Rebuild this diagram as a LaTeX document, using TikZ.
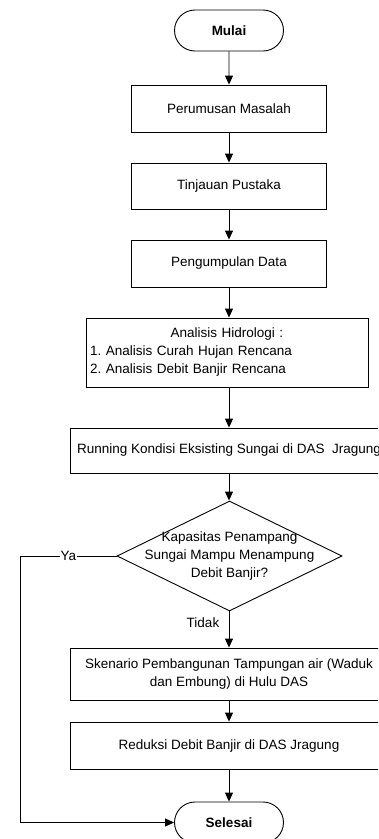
\documentclass[tikz,border=0pt]{standalone}
\usepackage{fontspec}
\setmainfont{Liberation Sans}
\usetikzlibrary{shapes.geometric,shapes.misc,arrows.meta}
\frenchspacing
\begin{document}
\begin{tikzpicture}[x=1pt,y=-1pt,
  every node/.style={font=\fontsize{13.5}{18}\selectfont},
  box/.style={draw=black,line width=0.9pt,rectangle,inner sep=0pt,align=center,minimum height=47pt},
  term/.style={draw=black,line width=0.9pt,rounded rectangle,minimum width=109pt,minimum height=41pt,inner sep=0pt,font=\fontsize{13.5}{18}\selectfont\bfseries},
  dec/.style={draw=black,line width=0.9pt,diamond,minimum width=225pt,minimum height=110pt,inner sep=0pt},
  arr/.style={draw=black,line width=0.9pt,-{Triangle[length=9pt,width=8pt]}},
  lbl/.style={fill=white,inner sep=1pt}]
\useasboundingbox (0,0) rectangle (378,839);
\clip (0,0) rectangle (378,839);
\node[term] (mulai) at (229,30.5) {Mulai};
\node[box,minimum width=195pt] (p1) at (229,108.5) {Perumusan Masalah};
\node[box,minimum width=195pt,minimum height=46pt] (p2) at (229,186) {Tinjauan Pustaka};
\node[box,minimum width=195pt] (p3) at (229,263.5) {Pengumpulan Data};
\node[box,minimum width=282pt,minimum height=69pt,text width=274pt,align=left] (p4) at (227,352.5)
  {{\centering Analisis Hidrologi :\par}1. Analisis Curah Hujan Rencana\\2. Analisis Debit Banjir Rencana};
\node[box,minimum width=318pt,minimum height=45pt] (run) at (229,450.5) {Running Kondisi Eksisting Sungai di DAS\ \ Jragung};
\node[dec] (d) at (229.5,556) {};
\node[align=center,inner sep=0pt] (dt) at (229.5,556) {Kapasitas Penampang\\Sungai Mampu Menampung\\Debit Banjir?};
\node[box,minimum width=318pt,minimum height=52pt] (sk) at (229,674) {Skenario Pembangunan Tampungan air (Waduk\\dan Embung) di Hulu DAS};
\node[box,minimum width=318pt] (red) at (229,745.5) {Reduksi Debit Banjir di DAS Jragung};
\node[term] (sel) at (229,822.5) {Selesai};
\node[inner sep=0pt] (tidak) at (203,623) {Tidak};
\coordinate (yc) at (20,556);
\draw[arr] (mulai) -- (p1);
\draw[arr] (p1) -- (p2);
\draw[arr] (p2) -- (p3);
\draw[arr] (p3.south) -- (p3.south |- p4.north);
\draw[arr] (p4.south -| run.north) -- (run.north);
\draw[arr] (run.south) -- (d.north -| run.south);
\draw[arr] (d.south -| sk.north) -- (sk.north);
\draw[arr] (sk) -- (red);
\draw[arr] (red) -- (sel);
\draw[arr] (d.west) -- node[lbl] (ya) {Ya} (yc) |- (sel.west);
\end{tikzpicture}
\end{document}
